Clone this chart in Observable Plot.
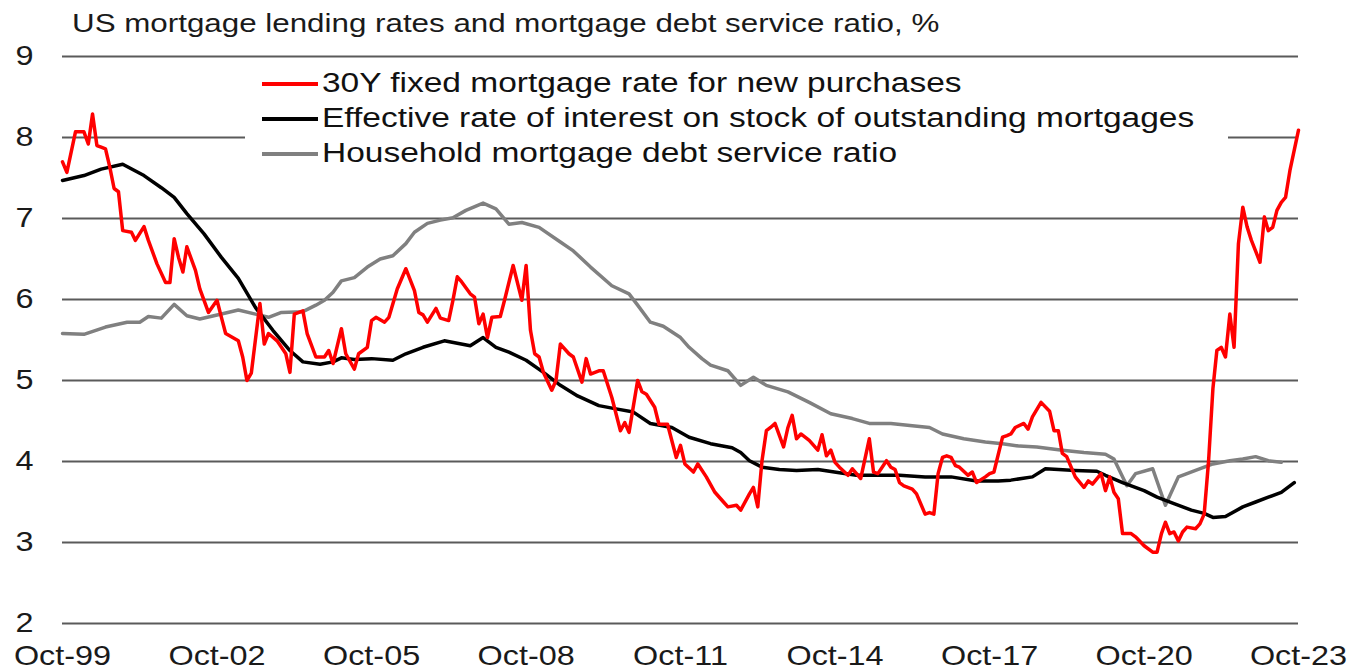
<!DOCTYPE html>
<html><head><meta charset="utf-8">
<script src="https://cdn.jsdelivr.net/npm/d3@7"></script>
<script src="https://cdn.jsdelivr.net/npm/@observablehq/plot@0.6"></script>
<style>
body{margin:0;background:#fff;font-family:"Liberation Sans",Arial,sans-serif;}
#wrap{position:relative;width:1350px;height:669px;overflow:hidden}
#title{height:40px;line-height:46px;padding-left:72px;font-size:26px;color:#1a1a1a;white-space:nowrap}
#title span{display:inline-block;transform:scaleX(1.205);transform-origin:left center}
#legend{position:absolute;left:245px;top:66px;width:983px;height:105px;background:#fff}
.row{height:35px;display:flex;align-items:center;padding-left:17px}
.swatch{width:56px;height:4px;margin-right:4px;flex:none}
.lab{font-size:27px;display:inline-block;transform:scaleX(1.24);transform-origin:left center;white-space:nowrap;color:#111}
svg{display:block}
</style></head>
<body>
<div id="wrap">
<div id="title"><span>US mortgage lending rates and mortgage debt service ratio, %</span></div>
<div id="chart"></div>
<div id="legend"></div>
</div>
<script>
// month index = months since Oct-1999
const redMonths = [0,1,3,5,6,7,8,9,10,11,12,13,14,16,17,19,20,22,24,25,26,27,28,29,31,32,34,36,37,38,41,42,43,44,46,47,48,50,52,53,54,56,57,59,61,62,63,65,66,68,69,71,72,73,75,76,78,80,82,83,84,85,87,88,90,91,92,93,95,96,97,98,99,100,102,103,105,107,108,109,110,111,112,114,115,116,118,119,121,122,123,125,126,128,130,131,132,134,135,136,138,139,141,143,144,145,147,148,150,152,154,155,157,158,160,161,162,163,164,165,166,168,169,170,171,172,174,176,177,178,179,180,181,183,184,186,188,189,190,192,193,194,195,196,198,199,201,202,203,204,205,206,207,208,209,211,212,213,215,216,217,219,220,221,222,224,225,226,228,230,231,232,233,234,236,238,239,240,242,243,244,245,246,247,249,250,252,254,255,256,257,258,259,260,261,262,264,265,266,267,268,269,270,271,272,273,274,275,276,277,279,280,281,282,283,284,285,286,288];
const redValues = [7.70,7.57,8.07,8.07,7.92,8.29,7.90,7.88,7.86,7.63,7.37,7.33,6.85,6.83,6.73,6.90,6.73,6.44,6.21,6.21,6.75,6.52,6.34,6.65,6.36,6.13,5.84,5.99,5.78,5.58,5.49,5.29,5.00,5.09,5.95,5.45,5.58,5.49,5.33,5.10,5.82,5.86,5.58,5.29,5.29,5.37,5.21,5.64,5.33,5.14,5.33,5.41,5.74,5.78,5.72,5.78,6.13,6.38,6.11,5.84,5.81,5.72,5.89,5.77,5.74,5.99,6.28,6.22,6.07,6.03,5.70,5.82,5.53,5.78,5.79,5.99,6.42,5.99,6.42,5.62,5.33,5.29,5.10,4.88,5.00,5.45,5.33,5.29,4.98,5.27,5.08,5.12,5.12,4.79,4.38,4.48,4.36,5.00,4.86,4.83,4.67,4.46,4.46,4.05,4.20,3.97,3.87,3.97,3.81,3.62,3.50,3.44,3.46,3.40,3.60,3.68,3.44,4.01,4.38,4.42,4.47,4.18,4.42,4.57,4.28,4.34,4.26,4.14,4.33,4.07,4.14,3.99,3.93,3.83,3.91,3.79,4.28,3.87,3.85,4.01,3.93,3.90,3.74,3.70,3.66,3.60,3.35,3.37,3.35,3.85,4.05,4.07,4.05,3.95,3.93,3.83,3.87,3.74,3.81,3.85,3.87,4.30,4.32,4.34,4.42,4.47,4.40,4.55,4.73,4.62,4.38,4.38,4.10,4.06,3.81,3.68,3.76,3.72,3.85,3.64,3.81,3.62,3.54,3.11,3.11,3.07,2.96,2.88,2.88,3.11,3.25,3.11,3.13,3.02,3.13,3.19,3.17,3.23,3.35,4.00,4.90,5.37,5.41,5.29,5.82,5.41,6.69,7.14,6.90,6.73,6.46,7.02,6.85,6.89,7.10,7.20,7.26,7.59,8.09];

const effMonths = [0,5,9,14,19,23,26,29,33,37,41,45,49,53,56,60,63,65,68,72,77,80,84,89,92,95,98,101,104,108,112,116,120,125,129,133,137,142,146,151,156,158,160,163,167,171,176,181,185,190,195,201,207,213,218,221,226,229,232,236,241,243,247,252,255,259,263,266,268,271,275,278,281,284,287];
const effValues = [7.47,7.53,7.61,7.67,7.53,7.38,7.26,7.06,6.81,6.52,6.26,5.90,5.62,5.37,5.23,5.20,5.23,5.28,5.26,5.27,5.25,5.33,5.41,5.49,5.46,5.43,5.53,5.41,5.35,5.25,5.10,4.94,4.81,4.69,4.65,4.61,4.47,4.42,4.30,4.22,4.17,4.11,4.01,3.93,3.90,3.89,3.90,3.86,3.83,3.83,3.83,3.81,3.81,3.76,3.76,3.77,3.81,3.91,3.90,3.89,3.88,3.83,3.74,3.64,3.56,3.48,3.40,3.36,3.31,3.32,3.44,3.50,3.56,3.62,3.74];

const dsrMonths = [0,5,10,15,18,20,23,26,29,32,37,41,45,48,51,56,59,61,63,65,68,71,74,77,80,82,85,88,91,94,98,101,104,107,111,116,119,123,128,132,134,137,140,144,146,149,151,155,158,161,164,169,174,179,184,188,193,198,202,205,210,215,219,223,227,233,238,243,245,248,250,254,257,260,264,268,272,275,278,281,284];
const dsrValues = [5.58,5.57,5.66,5.72,5.72,5.79,5.77,5.94,5.80,5.76,5.82,5.87,5.82,5.78,5.84,5.85,5.93,5.99,6.09,6.23,6.27,6.40,6.50,6.54,6.69,6.83,6.94,6.98,7.01,7.10,7.19,7.12,6.93,6.95,6.89,6.71,6.60,6.40,6.17,6.07,5.93,5.72,5.67,5.53,5.41,5.27,5.19,5.12,4.94,5.04,4.94,4.86,4.73,4.59,4.53,4.47,4.47,4.44,4.42,4.34,4.28,4.24,4.22,4.19,4.18,4.14,4.11,4.09,4.03,3.70,3.85,3.91,3.46,3.81,3.89,3.97,4.01,4.03,4.06,4.01,3.99];

const yTicks = [2,3,4,5,6,7,8,9];
const yTickLabels = ["2","3","4","5","6","7","8","9"];
const tickYears = [1999,2002,2005,2008,2011,2014,2017,2020,2023];
const xTickLabels = ["Oct-99","Oct-02","Oct-05","Oct-08","Oct-11","Oct-14","Oct-17","Oct-20","Oct-23"];

const seriesNames = ["30Y fixed mortgage rate for new purchases","Effective rate of interest on stock of outstanding mortgages","Household mortgage debt service ratio"];
const seriesColors = ["#ff0000","#000000","#808080"];

const start = new Date(Date.UTC(1999, 9, 1));
const toDate = m => d3.utcMonth.offset(start, m);
const build = (ms, vs) => ms.map((m, i) => ({date: toDate(m), v: vs[i]}));
const red = build(redMonths, redValues);
const eff = build(effMonths, effValues);
const dsr = build(dsrMonths, dsrValues);
const tickDates = tickYears.map(y => new Date(Date.UTC(y, 9, 1)));

const chart = Plot.plot({
  width: 1350, height: 629,
  marginTop: 16, marginBottom: 46, marginLeft: 62, marginRight: 52,
  style: {fontFamily: "Liberation Sans, Arial, sans-serif", fontSize: "27px", color: "#1a1a1a", background: "transparent", overflow: "visible"},
  x: {type: "utc", domain: [tickDates[0], tickDates[tickDates.length - 1]], ticks: tickDates,
      tickFormat: d => xTickLabels[tickYears.indexOf(d.getUTCFullYear())], tickSize: 0, tickPadding: 22, label: null},
  y: {domain: [2, 9], ticks: yTicks, tickFormat: d => yTickLabels[yTicks.indexOf(d)], tickSize: 0, tickPadding: 29, label: null},
  marks: [
    Plot.ruleY(yTicks, {stroke: "#5a5a5a", strokeWidth: 2.2}),
    Plot.line(dsr, {x: "date", y: "v", stroke: seriesColors[2], strokeWidth: 3.5}),
    Plot.line(eff, {x: "date", y: "v", stroke: seriesColors[1], strokeWidth: 3.5}),
    Plot.line(red, {x: "date", y: "v", stroke: seriesColors[0], strokeWidth: 3.5})
  ]
});
document.getElementById("chart").appendChild(chart);

for (const t of chart.querySelectorAll('g[aria-label$="tick label"] text')) {
  const tr = t.getAttribute("transform") || "";
  t.setAttribute("transform", `${tr} scale(1.2,1)`);
}

const legend = document.getElementById("legend");
seriesNames.forEach((name, i) => {
  const row = document.createElement("div");
  row.className = "row";
  const sw = document.createElement("div");
  sw.className = "swatch";
  sw.style.background = seriesColors[i];
  const lab = document.createElement("span");
  lab.className = "lab";
  lab.textContent = name;
  row.appendChild(sw); row.appendChild(lab);
  legend.appendChild(row);
});
</script>
</body></html>
